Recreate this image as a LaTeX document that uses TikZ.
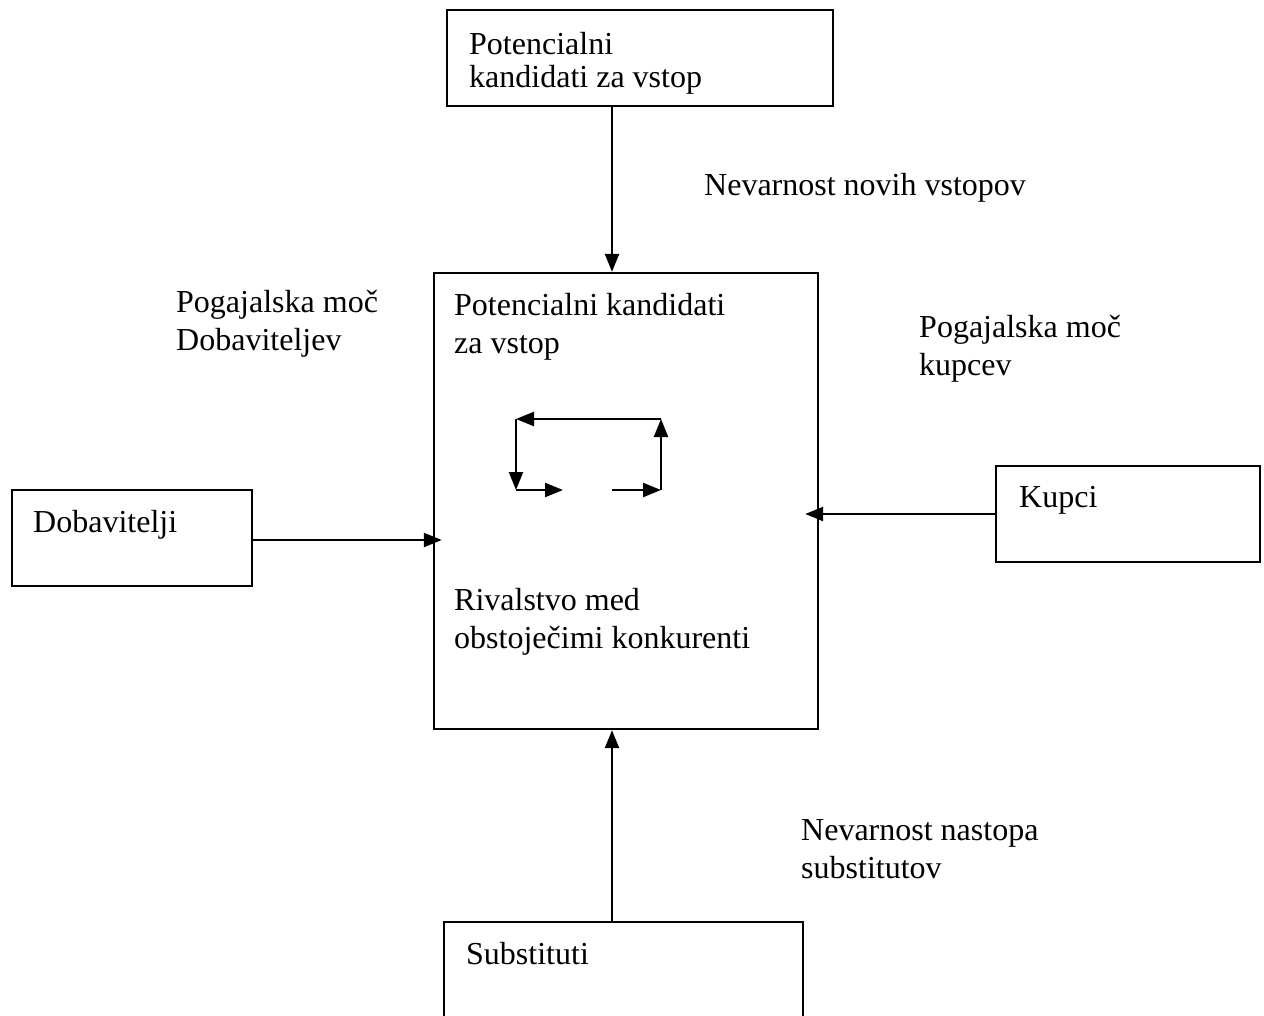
\documentclass[tikz,border=0pt]{standalone}
\usepackage{fontspec}
\setmainfont{Liberation Serif}
\usetikzlibrary{arrows.meta}

\begin{document}
\begin{tikzpicture}[
  x=1pt, y=-1pt,
  >={Triangle[length=18pt,width=14pt]}, % arrow head style
  line width=2.4pt, % line style
  font=\fontsize{32}{38}\selectfont
]

\tikzstyle{box}=[
  rectangle,
  draw = black,
  line width = 2.4pt,
  inner sep = 0pt
]
\tikzstyle{txt}=[anchor=base west, inner sep=0pt, align=left]

\useasboundingbox (0,0) rectangle (1264,1016);

% the five boxes
\node[box, minimum width=386pt, minimum height=96pt] (entry) at (640,58) {};
\node[box, minimum width=384pt, minimum height=456pt] (industry) at (626,501) {};
\node[box, minimum width=240pt, minimum height=96pt] (suppliers) at (132,538) {};
\node[box, minimum width=264pt, minimum height=96pt] (buyers) at (1128,514) {};
\node[box, minimum width=359pt, minimum height=140pt] (substitutes) at (623.5,992) {};

% texts (base = last line)
\node[txt, font=\fontsize{32}{33}\selectfont] (entrytxt) at (468,88) {Potencialni\\kandidati za vstop};
\node[txt] (threatnew) at (703,196) {Nevarnost novih vstopov};
\node[txt] (powersup) at (175,351) {Pogajalska moč\\Dobaviteljev};
\node[txt] (potential) at (453,353) {Potencialni kandidati\\za vstop};
\node[txt] (powerbuy) at (918,375) {Pogajalska moč\\kupcev};
\node[txt] (suptxt) at (32,532) {Dobavitelji};
\node[txt] (buytxt) at (1018,507) {Kupci};
\node[txt] (rivalry) at (453,648) {Rivalstvo med\\obstoječimi konkurenti};
\node[txt] (threatsub) at (800,878) {Nevarnost nastopa\\substitutov};
\node[txt] (subtxt) at (465,964) {Substituti};

% points for the arrows
\coordinate (axis) at (612,0);
\coordinate (c1) at (516,419);
\coordinate (c2) at (661,419);
\coordinate (c3) at (516,490);
\coordinate (c4) at (563,490);
\coordinate (c5) at (612,490);
\coordinate (c6) at (661,490);

\path [->] (entry.south -| axis) edge (industry.north -| axis);
\path [->] (substitutes.north -| axis) edge (industry.south -| axis);
\path [->] (suppliers.east |- 0,540) edge[shorten >=-9pt] (industry.west |- 0,540);
\path [->] (buyers.west) edge[shorten >=-14pt] (industry.east |- buyers.west);

% the circle of rivalry
\path [->] (c2) edge (c1);
\path [->] (c1) edge (c3);
\path [->] (c3) edge (c4);
\path [->] (c5) edge (c6);
\path [->] (c6) edge (c2);
\end{tikzpicture}
\end{document}
